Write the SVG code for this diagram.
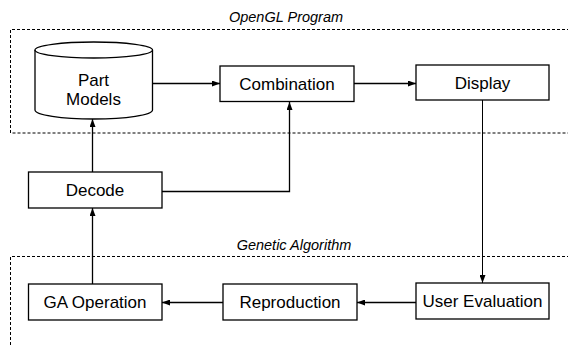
<svg xmlns="http://www.w3.org/2000/svg" width="568" height="345" viewBox="0 0 568 345">
<style>
.box{fill:#fff;stroke:#000;stroke-width:1.3}
.lbl{font-family:"Liberation Sans",Arial,sans-serif;font-size:17px;fill:#000;text-anchor:middle}
.grp{font-family:"Liberation Sans",Arial,sans-serif;font-size:14.5px;font-style:italic;fill:#000;text-anchor:middle}
.dot{fill:none;stroke:#000;stroke-width:1;stroke-dasharray:3,2}
.ln{fill:none;stroke:#000;stroke-width:1.3}
</style>
<defs>
<marker id="ah" markerWidth="8" markerHeight="6" refX="8" refY="3" orient="auto" markerUnits="userSpaceOnUse">
<path d="M0,0 L8,3 L0,6 Z" fill="#000"/>
</marker>
</defs>
<rect width="568" height="345" fill="#fff"/>
<g id="opengl-group">
<path class="dot" d="M570,29.5 H10.5 V133 H570"/>
<text class="grp" x="286" y="22">OpenGL Program</text>
</g>
<g id="ga-group">
<path class="dot" d="M570,256.5 H10.5 V350"/>
<text class="grp" x="294" y="250">Genetic Algorithm</text>
</g>
<g id="connectors">
<line class="ln" x1="152.5" y1="83.5" x2="220" y2="83.5" marker-end="url(#ah)"/>
<line class="ln" x1="354" y1="83.5" x2="416" y2="83.5" marker-end="url(#ah)"/>
<line x1="482.5" y1="100" x2="482.5" y2="283" stroke="#000" stroke-width="1" marker-end="url(#ah)"/>
<line class="ln" x1="416" y1="302.5" x2="357" y2="302.5" marker-end="url(#ah)"/>
<line class="ln" x1="223" y1="302.5" x2="162" y2="302.5" marker-end="url(#ah)"/>
<line class="ln" x1="92.5" y1="284" x2="92.5" y2="208" marker-end="url(#ah)"/>
<line class="ln" x1="92.5" y1="172" x2="92.5" y2="119" marker-end="url(#ah)"/>
<polyline class="ln" points="162,191.5 289.5,191.5 289.5,102" marker-end="url(#ah)"/>
</g>
<g id="part-models">
<path class="box" d="M35,50 A58.75,8 0 0 1 152.5,50 V110 A58.75,9 0 0 1 35,110 Z"/>
<path class="ln" d="M35,50 A58.75,8 0 0 0 152.5,50"/>
<text class="lbl" x="93.5" y="86">Part</text>
<text class="lbl" x="93.5" y="105">Models</text>
</g>
<g id="combination">
<rect class="box" x="220" y="66" width="134" height="35.5"/>
<text class="lbl" x="287" y="90">Combination</text>
</g>
<g id="display">
<rect class="box" x="416" y="65" width="133" height="35"/>
<text class="lbl" x="482.5" y="89">Display</text>
</g>
<g id="decode">
<rect class="box" x="28.5" y="172" width="133.5" height="36"/>
<text class="lbl" x="95" y="196">Decode</text>
</g>
<g id="ga-operation">
<rect class="box" x="28.5" y="284" width="133.5" height="36"/>
<text class="lbl" x="95" y="308">GA Operation</text>
</g>
<g id="reproduction">
<rect class="box" x="223" y="284" width="134" height="36"/>
<text class="lbl" x="290" y="308">Reproduction</text>
</g>
<g id="user-evaluation">
<rect class="box" x="416" y="283" width="133" height="36"/>
<text class="lbl" x="482.5" y="307">User Evaluation</text>
</g>
</svg>
